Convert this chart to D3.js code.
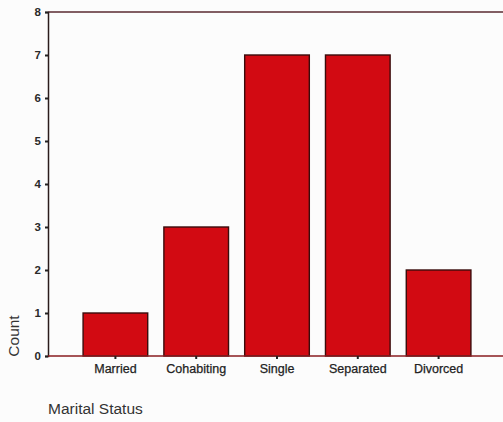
<!DOCTYPE html>
<html><head><meta charset="utf-8">
<script src="https://cdn.jsdelivr.net/npm/d3@7"></script>
<style>body{margin:0;background:#fcfcfc;}svg{display:block;font-family:Arial,"Liberation Sans",sans-serif;}</style>
</head><body><svg id="c" width="503" height="422"></svg>
<script>
const categories = ["Married","Cohabiting","Single","Separated","Divorced"];
const counts = [1,3,7,7,2];
const yTicks = [0,1,2,3,4,5,6,7,8];
const yLabel = "Count";
const xLabel = "Marital Status";

const svg = d3.select("#c");
const x = d3.scaleBand().domain(categories).range([75,479]).paddingInner(0.2).paddingOuter(0.1);
const y = d3.scaleLinear().domain([0,8]).range([356,12]);

// top frame line
svg.append("line").attr("x1",48).attr("x2",503).attr("y1",y(8)).attr("y2",y(8))
  .attr("stroke","#5a2a30").attr("stroke-width",1.3);

// bars
svg.selectAll("rect.bar").data(counts).join("rect").attr("class","bar")
  .attr("x",(d,i)=>x(categories[i])).attr("width",x.bandwidth())
  .attr("y",d=>y(d)).attr("height",d=>y(0)-y(d))
  .attr("fill","#d20a12").attr("stroke","#3a0c0c").attr("stroke-width",1.4);

// y axis
const ya = svg.append("g").attr("transform","translate(48,0)")
  .call(d3.axisLeft(y).tickValues(yTicks).tickSize(3).tickPadding(4).tickFormat(d3.format("d")));
ya.select(".domain").attr("stroke","#2a1c1c").attr("stroke-width",1.5);
ya.selectAll(".tick line").attr("stroke","#222").attr("stroke-width",2);
ya.selectAll(".tick text").attr("fill","#2a2a2a").attr("font-size",11.5).attr("font-weight","bold");

// x axis
const xa = svg.append("g").attr("transform","translate(0,356)")
  .call(d3.axisBottom(x).tickSize(3).tickPadding(5));
xa.select(".domain").attr("d","M48,0H503").attr("stroke","#8a1c20").attr("stroke-width",1.3);
xa.selectAll(".tick line").attr("stroke","#222").attr("stroke-width",2);
xa.selectAll(".tick text").attr("fill","#222").attr("font-size",12.5).attr("stroke","#222").attr("stroke-width",0.25);

svg.append("text").attr("transform","translate(19,336) rotate(-90)").attr("text-anchor","middle")
  .attr("font-size",15.5).attr("fill","#333").text(yLabel);
svg.append("text").attr("x",48).attr("y",414).attr("font-size",15.5).attr("fill","#333").text(xLabel);
</script></body></html>
